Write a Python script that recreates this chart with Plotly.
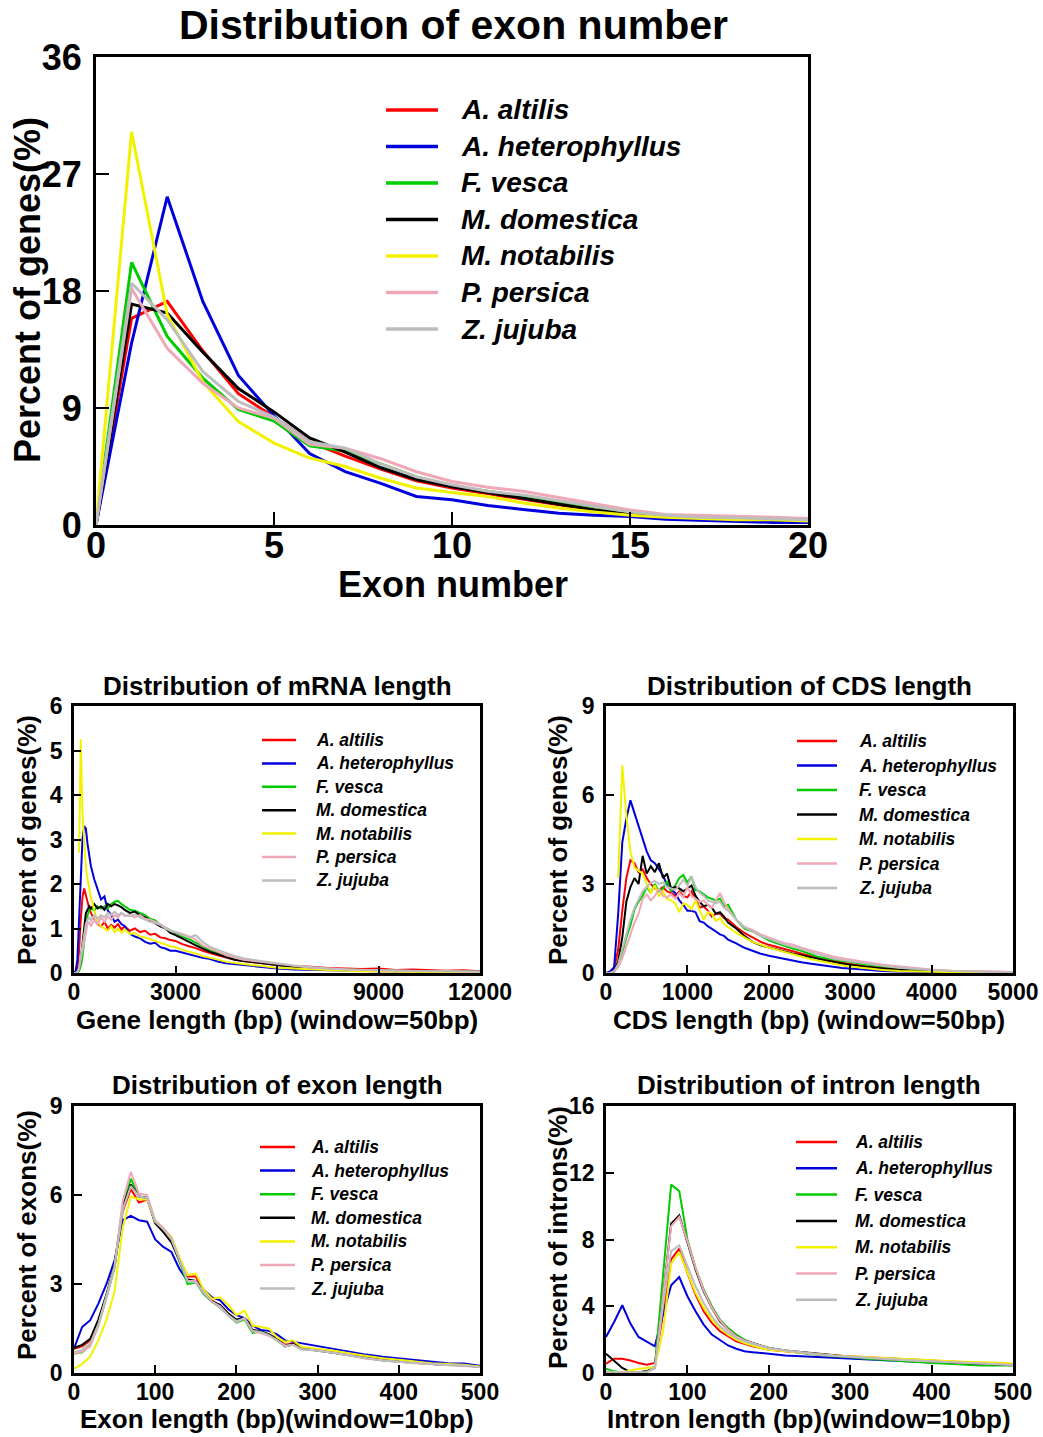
import plotly.graph_objects as go

# ---------------------------------------------------------------- species
SPECIES = ["A. altilis", "A. heterophyllus", "F. vesca", "M. domestica",
           "M. notabilis", "P. persica", "Z. jujuba"]
COLORS = ["#FF0000", "#0000DD", "#00CC00", "#000000",
          "#F2F200", "#F0A8B6", "#BDBDBD"]

# ---------------------------------------------------------------- exon number (%)
EXON_NUM_X = list(range(0, 21))
EXON_NUM = [
    [0, 15.9, 17.2, 13.4, 10.1, 8.3, 6.4, 5.3, 4.3, 3.4, 2.85, 2.4, 2.0, 1.55, 1.15, 0.8, 0.6, 0.5, 0.45, 0.35, 0.3],
    [0, 14.0, 25.25, 17.2, 11.5, 8.4, 5.5, 4.1, 3.2, 2.2, 1.95, 1.5, 1.2, 0.9, 0.75, 0.65, 0.45, 0.35, 0.25, 0.2, 0.2],
    [0, 20.2, 14.5, 11.3, 8.9, 8.0, 6.1, 5.7, 4.7, 3.7, 3.0, 2.6, 2.25, 1.85, 1.45, 1.0, 0.7, 0.55, 0.5, 0.45, 0.35],
    [0, 17.0, 16.3, 13.3, 10.5, 8.7, 6.7, 5.6, 4.4, 3.5, 2.95, 2.5, 2.05, 1.55, 1.15, 0.8, 0.65, 0.55, 0.5, 0.45, 0.35],
    [0, 30.25, 16.2, 11.0, 7.95, 6.3, 5.15, 4.5, 3.6, 2.85, 2.5, 2.2, 1.7, 1.3, 1.0, 0.75, 0.6, 0.5, 0.4, 0.4, 0.3],
    [0, 18.2, 13.6, 10.9, 9.0, 8.2, 6.2, 5.9, 5.1, 4.1, 3.35, 2.9, 2.6, 2.1, 1.65, 1.15, 0.8, 0.75, 0.7, 0.6, 0.5],
    [0, 18.6, 15.8, 11.8, 9.5, 8.3, 6.4, 5.9, 4.7, 3.7, 3.1, 2.6, 2.3, 1.85, 1.45, 1.0, 0.75, 0.6, 0.55, 0.5, 0.4],
]

# ---------------------------------------------------------------- mRNA length (%)
MRNA_X = [0, 50, 100, 150, 200, 250, 300, 350, 400, 450, 500, 600, 700, 800, 900, 1000,
          1100, 1200, 1300, 1400, 1500, 1650, 1800, 1950, 2100, 2250, 2400, 2550, 2700,
          2850, 3000, 3200, 3400, 3600, 3800, 4000, 4250, 4500, 4750, 5000, 5500, 6000,
          6500, 7000, 7500, 8000, 8500, 9000, 9500, 10000, 10500, 11000, 11500, 12000]
MRNA = [
    [0, 0.02, 0.1, 0.5, 1.2, 1.7, 1.9, 1.75, 1.55, 1.45, 1.35, 1.2, 1.1, 1.05, 1.15, 1.0,
     1.08, 1.02, 1.1, 0.98, 1.05, 0.95, 1.0, 0.92, 0.95, 0.86, 0.88, 0.8, 0.78,
     0.74, 0.72, 0.65, 0.6, 0.56, 0.5, 0.45, 0.4, 0.35, 0.3, 0.27, 0.22, 0.18,
     0.15, 0.14, 0.11, 0.1, 0.09, 0.1, 0.07, 0.08, 0.06, 0.05, 0.06, 0.04],
    [0, 0.05, 0.3, 1.2, 2.3, 3.0, 3.3, 3.25, 2.9, 2.65, 2.4, 2.1, 1.85, 1.65, 1.72, 1.4,
     1.3, 1.15, 1.2, 1.1, 1.05, 0.88, 0.82, 0.78, 0.7, 0.66, 0.68, 0.58, 0.55,
     0.5, 0.5, 0.46, 0.42, 0.38, 0.34, 0.32, 0.26, 0.22, 0.2, 0.17, 0.13, 0.1,
     0.08, 0.07, 0.06, 0.05, 0.05, 0.04, 0.04, 0.05, 0.03, 0.03, 0.04, 0.03],
    [0, 0, 0.02, 0.05, 0.15, 0.35, 0.7, 1.05, 1.3, 1.4, 1.45, 1.4, 1.5, 1.45, 1.5, 1.45,
     1.55, 1.6, 1.62, 1.55, 1.5, 1.42, 1.4, 1.35, 1.3, 1.22, 1.18, 1.08, 1.02,
     0.95, 0.9, 0.82, 0.76, 0.68, 0.6, 0.52, 0.46, 0.4, 0.33, 0.3, 0.24, 0.19,
     0.14, 0.11, 0.09, 0.08, 0.06, 0.05, 0.05, 0.04, 0.04, 0.04, 0.03, 0.03],
    [0, 0, 0.02, 0.1, 0.3, 0.7, 1.1, 1.35, 1.42, 1.5, 1.45, 1.55, 1.45, 1.5, 1.42, 1.55,
     1.5, 1.55, 1.52, 1.48, 1.42, 1.35, 1.38, 1.3, 1.25, 1.18, 1.12, 1.05, 1.0,
     0.9, 0.85, 0.78, 0.7, 0.62, 0.55, 0.48, 0.42, 0.36, 0.3, 0.27, 0.22, 0.18,
     0.14, 0.1, 0.08, 0.07, 0.05, 0.06, 0.04, 0.04, 0.03, 0.03, 0.02, 0.02],
    [None, None, None, 2.7, 5.25, 3.6, 2.9, 2.4, 2.1, 1.85, 1.7, 1.4, 1.15, 1.05, 1.0, 0.95,
     1.05, 0.92, 1.0, 0.9, 0.98, 0.88, 0.9, 0.82, 0.8, 0.76, 0.72, 0.68, 0.64,
     0.6, 0.58, 0.52, 0.48, 0.44, 0.38, 0.35, 0.3, 0.25, 0.22, 0.2, 0.16, 0.12,
     0.1, 0.08, 0.06, 0.05, 0.04, 0.04, 0.03, 0.03, 0.02, 0.02, 0.02, 0.02],
    [0, 0, 0.02, 0.1, 0.3, 0.5, 0.75, 0.95, 1.1, 1.15, 1.05, 1.2, 1.1, 1.25, 1.15, 1.28,
     1.2, 1.3, 1.25, 1.35, 1.28, 1.3, 1.25, 1.3, 1.22, 1.2, 1.15, 1.1, 1.02,
     0.95, 0.92, 0.88, 0.82, 0.75, 0.62, 0.55, 0.48, 0.4, 0.35, 0.3, 0.25, 0.2,
     0.16, 0.12, 0.1, 0.08, 0.07, 0.06, 0.05, 0.05, 0.04, 0.04, 0.04, 0.03],
    [0, 0, 0.02, 0.1, 0.35, 0.6, 0.9, 1.1, 1.2, 1.25, 1.18, 1.3, 1.22, 1.3, 1.25, 1.35,
     1.3, 1.38, 1.3, 1.35, 1.3, 1.28, 1.32, 1.25, 1.2, 1.15, 1.12, 1.08, 1.0,
     0.95, 0.92, 0.85, 0.8, 0.85, 0.7, 0.6, 0.52, 0.45, 0.38, 0.33, 0.27, 0.22,
     0.17, 0.13, 0.1, 0.08, 0.07, 0.06, 0.05, 0.05, 0.04, 0.04, 0.03, 0.03],
]

# ---------------------------------------------------------------- CDS length (%)
CDS_X = [0, 50, 100, 150, 200, 250, 300, 350, 400, 450, 500, 550, 600, 650, 700, 750,
         800, 850, 900, 950, 1000, 1050, 1100, 1150, 1200, 1250, 1300, 1350, 1400, 1450,
         1500, 1600, 1700, 1800, 1900, 2000, 2100, 2200, 2300, 2400, 2500, 2600, 2700,
         2800, 2900, 3000, 3200, 3400, 3600, 3800, 4000, 4250, 4500, 4750, 5000]
CDS = [
    [0, 0.02, 0.15, 0.8, 2.1, 3.2, 3.8, 3.7, 3.4, 3.5, 3.2, 3.0, 2.85, 2.8, 2.9, 2.75,
     2.7, 2.6, 2.75, 2.6, 2.55, 2.75, 2.5, 2.2, 2.25, 2.1, 1.9, 2.0, 2.0, 1.85,
     1.8, 1.55, 1.35, 1.2, 1.05, 0.95, 0.88, 0.8, 0.72, 0.65, 0.58, 0.5, 0.45,
     0.4, 0.34, 0.3, 0.22, 0.16, 0.12, 0.09, 0.1, 0.05, 0.04, 0.03, 0.03],
    [0, 0.05, 0.2, 2.0, 4.4, 5.2, 5.82, 5.4, 5.0, 4.6, 4.1, 3.8, 3.7, 3.5, 3.3, 2.95,
     2.8, 2.7, 2.45, 2.3, 2.1, 2.1, 2.05, 1.75, 1.7, 1.58, 1.5, 1.4, 1.3, 1.25,
     1.12, 1.0, 0.85, 0.75, 0.65, 0.58, 0.52, 0.46, 0.4, 0.36, 0.32, 0.28, 0.24,
     0.2, 0.17, 0.15, 0.1, 0.07, 0.05, 0.04, 0.03, 0.02, 0.02, 0.01, 0.01],
    [0, 0, 0.05, 0.3, 0.7, 1.2, 1.6, 2.15, 2.4, 2.6, 2.9, 2.7, 3.0, 2.75, 2.85, 3.1,
     2.75, 2.95, 3.2, 3.3, 3.05, 3.25, 2.8, 2.75, 2.65, 2.55, 2.5, 2.45, 2.5, 2.25,
     2.3, 1.8, 1.5, 1.4, 1.25, 1.1, 1.0, 0.9, 0.82, 0.75, 0.65, 0.55, 0.5,
     0.45, 0.4, 0.38, 0.28, 0.22, 0.17, 0.12, 0.08, 0.06, 0.03, 0.02, 0.02],
    [0, 0, 0.05, 0.4, 1.2, 2.4, 2.9, 3.2, 3.0, 3.95, 3.35, 3.6, 3.4, 3.7, 3.2, 3.35,
     2.85, 2.9, 2.85, 2.75, 2.85, 2.95, 2.6, 2.4, 2.25, 2.3, 2.2, 2.0, 2.05, 1.9,
     1.7, 1.5, 1.25, 1.05, 0.93, 0.86, 0.78, 0.7, 0.65, 0.6, 0.55, 0.48, 0.42,
     0.36, 0.32, 0.28, 0.2, 0.15, 0.1, 0.07, 0.05, 0.04, 0.03, 0.02, 0.02],
    [None, None, None, 3.2, 7.0, 5.3, 4.1, 3.55, 3.45, 3.35, 3.0, 2.7, 2.95, 2.6, 2.75, 2.5,
     2.45, 2.35, 2.05, 2.35, 2.3, 2.15, 2.45, 2.1, 1.8, 2.05, 2.0, 1.75, 1.85, 1.65,
     1.55, 1.35, 1.2, 1.05, 0.95, 0.85, 0.78, 0.7, 0.62, 0.55, 0.48, 0.42, 0.36,
     0.3, 0.25, 0.22, 0.15, 0.1, 0.07, 0.05, 0.04, 0.03, 0.02, 0.01, 0.01],
    [0, 0, 0.05, 0.2, 0.5, 0.9, 1.3, 1.7, 2.0, 2.5, 2.65, 2.45, 2.6, 2.85, 2.6, 2.55,
     2.65, 2.5, 2.7, 2.55, 2.9, 2.6, 2.5, 2.4, 2.45, 2.3, 2.2, 2.45, 2.7, 2.4,
     2.15, 1.8, 1.55, 1.45, 1.3, 1.2, 1.1, 1.0, 0.95, 0.85, 0.78, 0.7, 0.62,
     0.55, 0.5, 0.45, 0.36, 0.28, 0.22, 0.16, 0.12, 0.08, 0.06, 0.04, 0.03],
    [0, 0, 0.05, 0.3, 0.8, 1.3, 1.8, 2.2, 2.5, 2.75, 2.9, 3.05, 3.1, 3.0, 3.05, 2.9,
     2.85, 2.8, 2.95, 3.15, 2.95, 3.25, 2.9, 2.7, 2.6, 2.45, 2.4, 2.35, 2.4, 2.2,
     2.1, 1.8, 1.55, 1.4, 1.25, 1.15, 1.05, 0.95, 0.88, 0.8, 0.72, 0.62, 0.55,
     0.48, 0.44, 0.4, 0.3, 0.24, 0.18, 0.13, 0.1, 0.07, 0.05, 0.03, 0.02],
]

# ---------------------------------------------------------------- exon length (%)
EXON_LEN_X = list(range(0, 301, 10)) + list(range(320, 501, 20))
EXON_LEN = [
    [0.82, 0.9, 1.1, 1.75, 2.6, 3.6, 5.45, 6.2, 5.75, 5.85, 5.1, 4.85, 4.5, 3.8, 3.25, 3.25,
     2.75, 2.45, 2.25, 2.0, 1.75, 1.85, 1.45, 1.4, 1.3, 1.15, 0.95, 1.0, 0.85, 0.8, 0.78,
     0.7, 0.62, 0.52, 0.45, 0.4, 0.35, 0.32, 0.28, 0.27, 0.22],
    [0.82, 1.55, 1.78, 2.34, 3.0, 3.8, 5.15, 5.3, 5.15, 5.1, 4.5, 4.25, 4.08, 3.5, 3.1, 3.1,
     2.8, 2.55, 2.45, 2.15, 1.95, 1.85, 1.6, 1.45, 1.42, 1.3, 1.1, 1.05, 1.0, 0.95, 0.92,
     0.82, 0.72, 0.62, 0.55, 0.5, 0.45, 0.4, 0.33, 0.32, 0.24],
    [0.65, 0.7, 0.95, 1.6, 2.55, 3.55, 5.6, 6.55, 5.95, 5.9, 5.05, 4.85, 4.5, 3.75, 3.0, 3.05,
     2.65, 2.4, 2.2, 1.95, 1.7, 1.8, 1.35, 1.4, 1.3, 1.1, 0.9, 0.95, 0.8, 0.78, 0.75,
     0.68, 0.6, 0.5, 0.42, 0.38, 0.34, 0.3, 0.27, 0.25, 0.2],
    [0.85, 0.95, 1.15, 1.8, 2.65, 3.65, 5.6, 6.35, 5.95, 5.9, 5.05, 4.75, 4.4, 3.75, 3.15, 3.1,
     2.7, 2.4, 2.3, 2.0, 1.8, 1.85, 1.45, 1.4, 1.3, 1.15, 0.9, 0.98, 0.82, 0.8, 0.76,
     0.7, 0.6, 0.5, 0.45, 0.4, 0.35, 0.3, 0.28, 0.26, 0.21],
    [0.15, 0.3, 0.55, 1.1, 1.8, 2.75, 4.9, 5.95, 5.85, 5.85, 5.1, 4.85, 4.6, 3.9, 3.3, 3.35,
     2.8, 2.5, 2.55, 2.3, 1.95, 2.1, 1.6, 1.55, 1.5, 1.2, 1.05, 1.1, 0.88, 0.85, 0.82,
     0.75, 0.66, 0.58, 0.5, 0.45, 0.38, 0.33, 0.3, 0.28, 0.22],
    [0.65, 0.72, 0.9, 1.6, 2.55, 3.6, 5.8, 6.78, 6.05, 6.0, 5.15, 4.9, 4.55, 3.85, 3.1, 3.1,
     2.7, 2.4, 2.25, 1.95, 1.72, 1.85, 1.4, 1.35, 1.25, 1.1, 0.92, 0.95, 0.8, 0.78, 0.76,
     0.68, 0.6, 0.48, 0.42, 0.38, 0.33, 0.3, 0.26, 0.25, 0.2],
    [0.7, 0.78, 1.0, 1.65, 2.6, 3.6, 5.5, 6.3, 5.95, 5.9, 5.1, 4.85, 4.5, 3.8, 3.1, 3.05,
     2.7, 2.4, 2.2, 1.95, 1.75, 1.82, 1.42, 1.38, 1.28, 1.1, 0.9, 0.95, 0.8, 0.78, 0.75,
     0.68, 0.58, 0.5, 0.42, 0.38, 0.33, 0.3, 0.27, 0.25, 0.2],
]

# ---------------------------------------------------------------- intron length (%)
INTRON_X = list(range(0, 201, 10)) + list(range(220, 501, 20))
INTRON = [
    [0.56, 0.86, 0.85, 0.75, 0.6, 0.5, 0.6, 3.5, 6.8, 7.45, 6.0, 4.7, 3.7, 3.0, 2.5, 2.2,
     1.9, 1.75, 1.6, 1.5, 1.4, 1.3, 1.2, 1.12, 1.05, 1.0, 0.95, 0.9, 0.85, 0.8, 0.75,
     0.7, 0.65, 0.6, 0.55, 0.5],
    [2.16, 3.06, 4.06, 2.96, 2.16, 1.86, 1.6, 3.5, 5.25, 5.75, 4.6, 3.7, 2.9, 2.3, 1.95, 1.65,
     1.45, 1.3, 1.25, 1.2, 1.12, 1.05, 1.0, 0.95, 0.9, 0.85, 0.8, 0.75, 0.7, 0.66, 0.63,
     0.6, 0.57, 0.53, 0.5, 0.46],
    [0.26, 0.1, 0.05, 0.05, 0.05, 0.1, 0.4, 5.8, 11.29, 10.9, 8.0, 6.3, 5.0, 4.0, 3.2, 2.7,
     2.3, 2.0, 1.8, 1.65, 1.5, 1.35, 1.2, 1.1, 1.0, 0.95, 0.85, 0.8, 0.72, 0.68, 0.6,
     0.55, 0.5, 0.45, 0.45, 0.45],
    [1.16, 0.75, 0.3, 0.05, 0.05, 0.1, 0.3, 4.5, 8.95, 9.45, 7.8, 6.2, 4.9, 3.9, 3.1, 2.6,
     2.2, 1.95, 1.8, 1.65, 1.5, 1.35, 1.25, 1.15, 1.05, 0.98, 0.92, 0.86, 0.8, 0.75, 0.7,
     0.65, 0.6, 0.56, 0.52, 0.48],
    [0.05, 0.05, 0.05, 0.15, 0.25, 0.3, 0.35, 2.5, 6.55, 7.25, 6.0, 4.8, 3.9, 3.2, 2.7, 2.3,
     2.0, 1.8, 1.65, 1.5, 1.4, 1.3, 1.2, 1.12, 1.05, 1.0, 0.95, 0.9, 0.85, 0.8, 0.77,
     0.72, 0.68, 0.65, 0.62, 0.58],
    [0.1, 0.05, 0.05, 0.05, 0.05, 0.05, 0.3, 4.5, 8.8, 9.35, 7.9, 6.3, 4.95, 3.9, 3.15, 2.6,
     2.2, 1.95, 1.8, 1.65, 1.5, 1.35, 1.22, 1.12, 1.04, 0.97, 0.9, 0.85, 0.8, 0.74, 0.7,
     0.65, 0.6, 0.57, 0.53, 0.5],
    [0.05, 0.05, 0.05, 0.05, 0.05, 0.05, 0.3, 4.0, 7.3, 7.65, 6.4, 5.2, 4.2, 3.4, 2.8, 2.4,
     2.1, 1.9, 1.75, 1.6, 1.48, 1.35, 1.22, 1.12, 1.04, 0.97, 0.9, 0.85, 0.8, 0.75, 0.7,
     0.65, 0.6, 0.56, 0.52, 0.48],
]

# ---------------------------------------------------------------- layout helpers
W, H = 1043, 1437
FONT = "Liberation Sans, Arial, sans-serif"


def fx(p):
    return p / W


def fy(p):
    return 1 - p / H


PANELS = [
    dict(ax="", x=EXON_NUM_X, ys=EXON_NUM, box=(96, 808, 57, 525),
         xr=[0, 20], xd=5, yr=[0, 36], yd=9, lw=3, frame=3, ticklen=13,
         tick_size=36, xstand=-13, title="Distribution of exon number", title_pos=(453, 25),
         title_size=41, xtitle="Exon number", xtitle_pos=(453, 584),
         ytitle="Percent of genes(%)", ytitle_pos=(28, 290), atitle_size=36,
         leg=dict(x0=386, x1=438, tx=459, y0=110, dy=36.5, size=28, lw=3)),
    dict(ax="2", x=MRNA_X, ys=MRNA, box=(74, 480, 706, 973),
         xr=[0, 12000], xd=3000, yr=[0, 6], yd=1, lw=2, frame=2.5, ticklen=7,
         tick_size=23, xstand=-3, title="Distribution of mRNA length", title_pos=(277, 686),
         title_size=26, xtitle="Gene length (bp) (window=50bp)", xtitle_pos=(277, 1020),
         ytitle="Percent of genes(%)", ytitle_pos=(27, 840), atitle_size=26,
         leg=dict(x0=262, x1=296, tx=314, y0=740, dy=23.4, size=17.5, lw=2)),
    dict(ax="3", x=CDS_X, ys=CDS, box=(606, 1013, 706, 973),
         xr=[0, 5000], xd=1000, yr=[0, 9], yd=3, lw=2, frame=2.5, ticklen=8,
         tick_size=23, xstand=-3, title="Distribution of CDS length", title_pos=(809, 686),
         title_size=26, xtitle="CDS length (bp) (window=50bp)", xtitle_pos=(809, 1020),
         ytitle="Percent of genes(%)", ytitle_pos=(558, 840), atitle_size=26,
         leg=dict(x0=797, x1=837, tx=857, y0=741, dy=24.5, size=17.5, lw=2)),
    dict(ax="4", x=EXON_LEN_X, ys=EXON_LEN, box=(74, 480, 1106, 1373),
         xr=[0, 500], xd=100, yr=[0, 9], yd=3, lw=2, frame=2.5, ticklen=8,
         tick_size=23, xstand=-3, title="Distribution of exon length", title_pos=(277, 1085),
         title_size=26, xtitle="Exon length (bp)(window=10bp)", xtitle_pos=(277, 1419),
         ytitle="Percent of exons(%)", ytitle_pos=(27, 1235), atitle_size=26,
         leg=dict(x0=260, x1=295, tx=309, y0=1147, dy=23.6, size=17.5, lw=2)),
    dict(ax="5", x=INTRON_X, ys=INTRON, box=(606, 1013, 1106, 1373),
         xr=[0, 500], xd=100, yr=[0, 16], yd=4, lw=2, frame=2.5, ticklen=8,
         tick_size=23, xstand=-3, title="Distribution of intron length", title_pos=(809, 1085),
         title_size=26, xtitle="Intron length (bp)(window=10bp)", xtitle_pos=(809, 1419),
         ytitle="Percent of introns(%)", ytitle_pos=(558, 1238), atitle_size=26,
         leg=dict(x0=796, x1=837, tx=853, y0=1142, dy=26.3, size=17.5, lw=2)),
]

fig = go.Figure()
layout = dict(width=W, height=H, margin=dict(l=0, r=0, t=0, b=0, autoexpand=False),
              paper_bgcolor="white", plot_bgcolor="white", showlegend=False,
              font=dict(family=FONT, color="black"))
annotations = []
shapes = []


def bold(size):
    return dict(family=FONT, size=size, color="black", weight="bold")


for p in PANELS:
    xa = "x" + p["ax"]
    ya = "y" + p["ax"]
    for name, color, ys in zip(SPECIES, COLORS, p["ys"]):
        fig.add_trace(go.Scatter(x=p["x"], y=ys, mode="lines", name=name,
                                 line=dict(color=color, width=p["lw"]),
                                 xaxis=xa, yaxis=ya, connectgaps=False))
    l, r, t, b = p["box"]
    common = dict(showline=True, linecolor="black", linewidth=p["frame"], mirror=True,
                  ticks="inside", ticklen=p["ticklen"], tickwidth=2, tickcolor="black",
                  showgrid=False, zeroline=False, tick0=0, automargin=False,
                  tickformat="d", separatethousands=False,
                  tickfont=bold(p["tick_size"]), fixedrange=True)
    layout["xaxis" + p["ax"]] = dict(common, domain=[fx(l), fx(r)], range=p["xr"],
                                     dtick=p["xd"], anchor=ya, ticklabelstandoff=p["xstand"])
    layout["yaxis" + p["ax"]] = dict(common, domain=[fy(b), fy(t)], range=p["yr"],
                                     dtick=p["yd"], anchor=xa, ticklabelstandoff=4)

    tx, ty = p["title_pos"]
    annotations.append(dict(text=p["title"], x=fx(tx), y=fy(ty), xref="paper", yref="paper",
                            xanchor="center", yanchor="middle", showarrow=False,
                            font=bold(p["title_size"])))
    tx, ty = p["xtitle_pos"]
    annotations.append(dict(text=p["xtitle"], x=fx(tx), y=fy(ty), xref="paper", yref="paper",
                            xanchor="center", yanchor="middle", showarrow=False,
                            font=bold(p["atitle_size"])))
    tx, ty = p["ytitle_pos"]
    annotations.append(dict(text=p["ytitle"], x=fx(tx), y=fy(ty), xref="paper", yref="paper",
                            xanchor="center", yanchor="middle", showarrow=False,
                            textangle=-90, font=bold(p["atitle_size"])))

    lg = p["leg"]
    for i, (name, color) in enumerate(zip(SPECIES, COLORS)):
        yy = lg["y0"] + i * lg["dy"]
        shapes.append(dict(type="line", xref="paper", yref="paper",
                           x0=fx(lg["x0"]), x1=fx(lg["x1"]), y0=fy(yy), y1=fy(yy),
                           line=dict(color=color, width=lg["lw"] + 0.5)))
        annotations.append(dict(text=name, x=fx(lg["tx"]), y=fy(yy), xref="paper",
                                yref="paper", xanchor="left", yanchor="middle",
                                showarrow=False,
                                font=dict(family=FONT, size=lg["size"], color="black",
                                          weight="bold", style="italic")))

layout["annotations"] = annotations
layout["shapes"] = shapes
fig.update_layout(**layout)
fig.write_html("out.html")
